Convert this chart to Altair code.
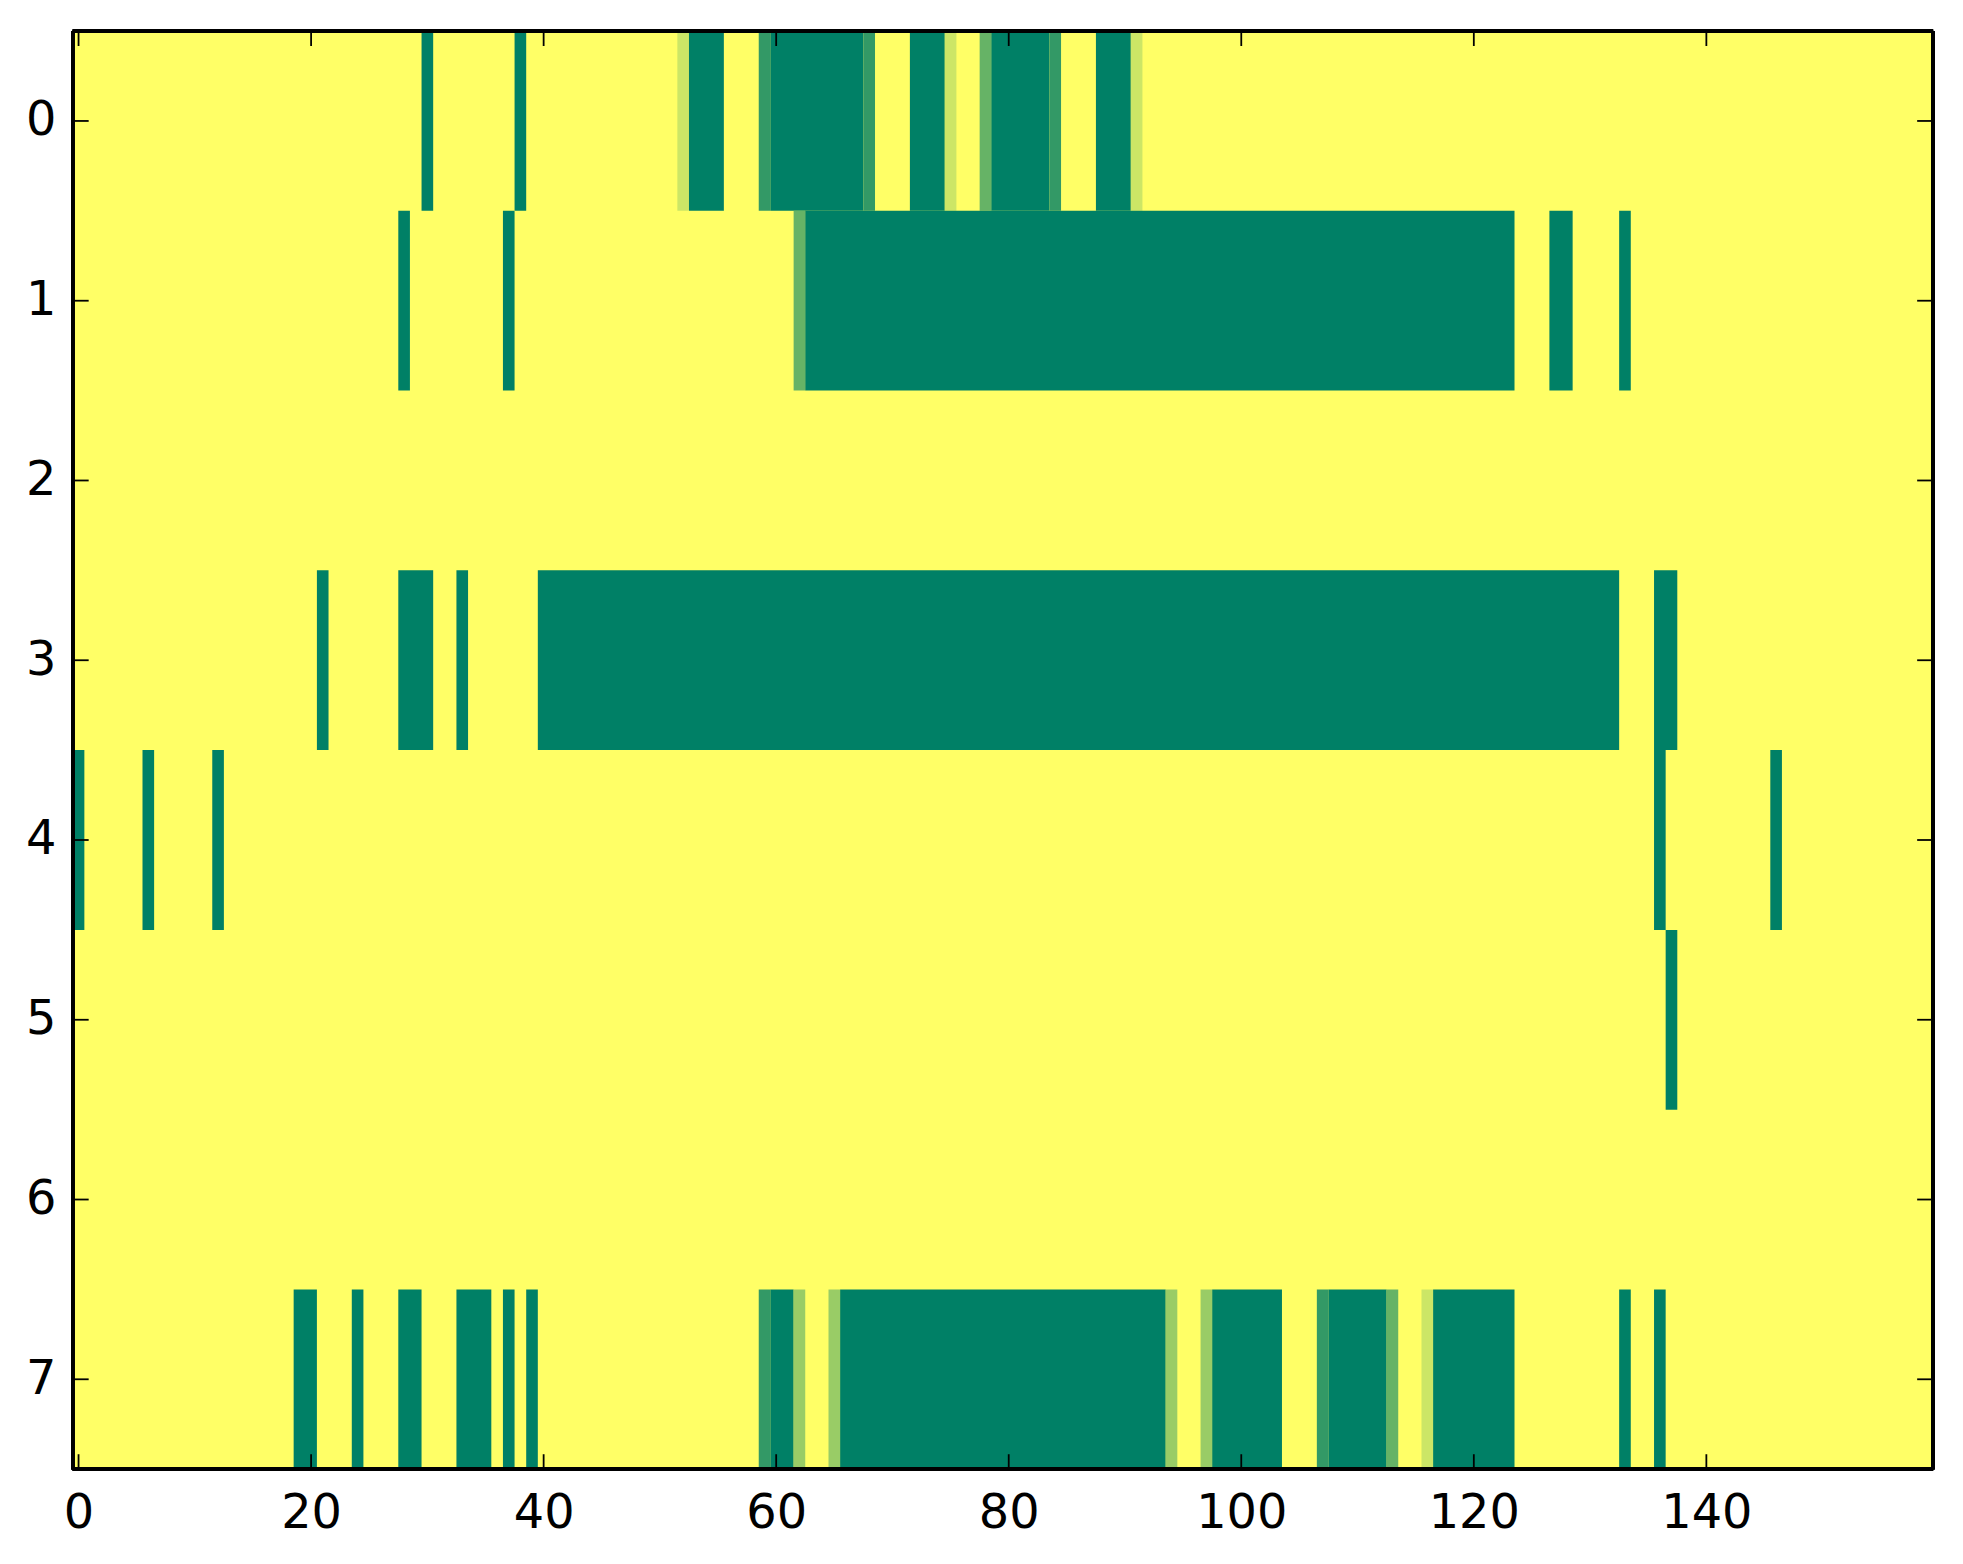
import altair as alt
import pandas as pd

# Heatmap values (summer colormap, 0 = green, 1 = yellow); every cell not listed is 1.
n_rows = 8
n_cols = 160
row_labels = [0, 1, 2, 3, 4, 5, 6, 7]
x_ticks = [0, 20, 40, 60, 80, 100, 120, 140]

# (first column, last column, value) runs that differ from 1
row0 = [(30, 30, 0), (38, 38, 0), (52, 52, 0.8), (53, 55, 0), (59, 59, 0.2), (60, 67, 0),
        (68, 68, 0.2), (72, 74, 0), (75, 75, 0.8), (78, 78, 0.4), (79, 83, 0), (84, 84, 0.2),
        (88, 90, 0), (91, 91, 0.8)]
row1 = [(28, 28, 0), (37, 37, 0), (62, 62, 0.4), (63, 123, 0), (127, 128, 0), (133, 133, 0)]
row2 = []
row3 = [(21, 21, 0), (28, 30, 0), (33, 33, 0), (40, 132, 0), (136, 137, 0)]
row4 = [(0, 0, 0), (6, 6, 0), (12, 12, 0), (136, 136, 0), (146, 146, 0)]
row5 = [(137, 137, 0)]
row6 = []
row7 = [(19, 20, 0), (24, 24, 0), (28, 29, 0), (33, 35, 0), (37, 37, 0), (39, 39, 0),
        (59, 59, 0.2), (60, 61, 0), (62, 62, 0.6), (65, 65, 0.6), (66, 93, 0), (94, 94, 0.6),
        (97, 97, 0.6), (98, 103, 0), (107, 107, 0.2), (108, 112, 0), (113, 113, 0.4),
        (116, 116, 0.8), (117, 123, 0), (133, 133, 0), (136, 136, 0)]
rows = [row0, row1, row2, row3, row4, row5, row6, row7]

W, H = 1868, 1444
FONT = "DejaVu Sans"
FS = 48

# whole-image background at value 1 (one rect, so no seams between rows)
bg = pd.DataFrame({"x0": [-0.5], "x1": [n_cols - 0.5], "y0": [-0.5], "y1": [n_rows - 0.5], "v": [1.0]})
seg_records = []
for r, segs in zip(row_labels, rows):
    for a, b, v in segs:
        seg_records.append({"x0": a - 0.5, "x1": b + 0.5, "y0": r - 0.5, "y1": r + 0.5, "v": v})
segs_df = pd.DataFrame(seg_records)

xscale = alt.Scale(domain=[-0.5, n_cols - 0.5], nice=False, zero=False)
yscale = alt.Scale(domain=[-0.5, n_rows - 0.5], nice=False, zero=False, reverse=True)
cscale = alt.Scale(domain=[0, 1], range=["#008066", "#ffff66"], interpolate="rgb")

xaxis = alt.Axis(values=x_ticks, ticks=False, domain=False, grid=False, labelFontSize=FS,
                 labelFont=FONT, labelColor="black", labelPadding=21, title=None,
                 labelFlush=False, labelOverlap=False, labelBound=False)
yaxis = alt.Axis(values=row_labels, ticks=False, domain=False, grid=False, labelFontSize=FS,
                 labelFont=FONT, labelColor="black", labelPadding=17, title=None,
                 labelFlush=False, labelOverlap=False, labelBound=False)

base_bg = alt.Chart(bg).mark_rect(strokeWidth=0).encode(
    x=alt.X("x0:Q", scale=xscale, axis=xaxis, title=None),
    x2="x1:Q",
    y=alt.Y("y0:Q", scale=yscale, axis=yaxis, title=None),
    y2="y1:Q",
    color=alt.Color("v:Q", scale=cscale, legend=None),
)
cells = alt.Chart(segs_df).mark_rect(strokeWidth=0).encode(
    x=alt.X("x0:Q", scale=xscale, axis=xaxis, title=None),
    x2="x1:Q",
    y=alt.Y("y0:Q", scale=yscale, axis=yaxis, title=None),
    y2="y1:Q",
    color=alt.Color("v:Q", scale=cscale, legend=None),
)

xt = pd.DataFrame({"x0": x_ticks})
yt = pd.DataFrame({"y0": row_labels})
TL = 15
tick_style = dict(color="black", strokeWidth=1.8)
xt_bottom = alt.Chart(xt).mark_rule(**tick_style).encode(
    x=alt.X("x0:Q", scale=xscale, axis=xaxis, title=None), y=alt.value(H), y2=alt.value(H - TL))
xt_top = alt.Chart(xt).mark_rule(**tick_style).encode(
    x=alt.X("x0:Q", scale=xscale, axis=xaxis, title=None), y=alt.value(0), y2=alt.value(TL))
yt_left = alt.Chart(yt).mark_rule(**tick_style).encode(
    y=alt.Y("y0:Q", scale=yscale, axis=yaxis, title=None), x=alt.value(0), x2=alt.value(TL + 1))
yt_right = alt.Chart(yt).mark_rule(**tick_style).encode(
    y=alt.Y("y0:Q", scale=yscale, axis=yaxis, title=None), x=alt.value(W), x2=alt.value(W - TL - 1))

frame_style = dict(color="black", strokeWidth=3.3)
f_left = alt.Chart(xt).mark_rule(**frame_style).encode(x=alt.value(0), y=alt.value(0), y2=alt.value(H))
f_right = alt.Chart(xt).mark_rule(**frame_style).encode(x=alt.value(W), y=alt.value(0), y2=alt.value(H))
f_top = alt.Chart(xt).mark_rule(**frame_style).encode(y=alt.value(0), x=alt.value(0), x2=alt.value(W))
f_bottom = alt.Chart(xt).mark_rule(**frame_style).encode(y=alt.value(H), x=alt.value(0), x2=alt.value(W))

chart = alt.layer(
    base_bg, cells, xt_bottom, xt_top, yt_left, yt_right, f_left, f_right, f_top, f_bottom
).properties(
    width=W, height=H,
    autosize=alt.AutoSizeParams(type="none"),
    padding={"left": 65, "top": 20, "right": 22, "bottom": 80},
).configure_view(stroke=None).configure(background="white")

chart.save("out.html", embed_options={"renderer": "svg", "actions": False})
